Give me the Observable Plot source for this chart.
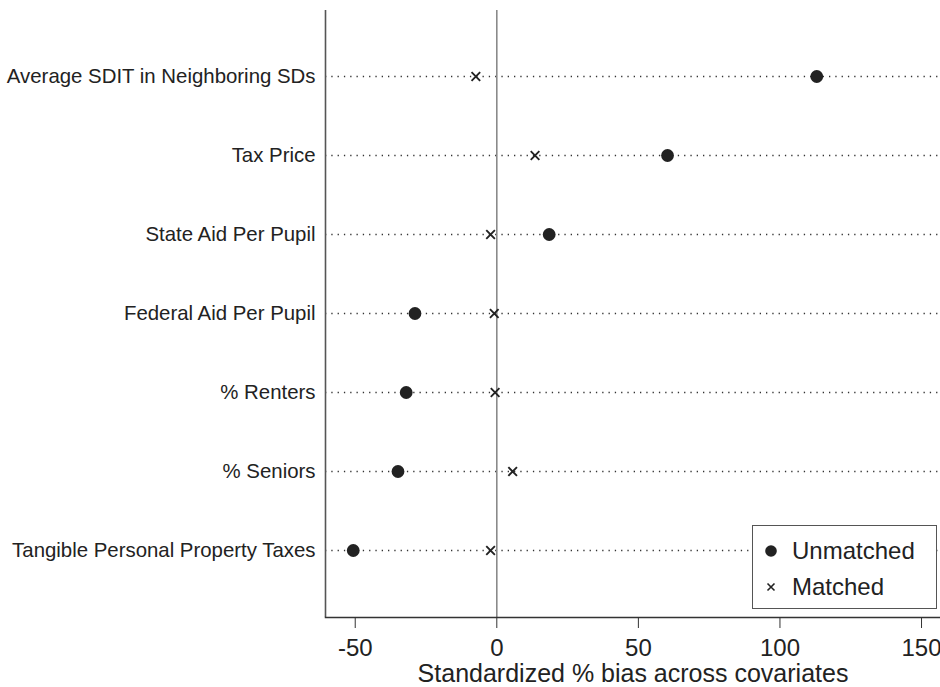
<!DOCTYPE html>
<html>
<head>
<meta charset="utf-8">
<script src="https://cdn.jsdelivr.net/npm/d3@7"></script>
<script src="https://cdn.jsdelivr.net/npm/@observablehq/plot@0.6"></script>
<style>
  html, body { margin: 0; padding: 0; background: #fff; overflow: hidden; }
  #wrap { position: relative; width: 940px; height: 687px; font-family: "Liberation Sans", Arial, sans-serif; }
  #wrap svg { display: block; }
  #legend { position: absolute; left: 752px; top: 525px; width: 185px; height: 84px; box-sizing: border-box;
            border: 1px solid #555; background: #fff; color: #222; font-size: 24px; }
  .lrow { position: absolute; left: 0; height: 36px; display: flex; align-items: center; }
  .lrow svg { margin-left: 11px; margin-right: 14px; }
</style>
</head>
<body>
<div id="wrap"></div>
<script>
const categories = [
  "Average SDIT in Neighboring SDs",
  "Tax Price",
  "State Aid Per Pupil",
  "Federal Aid Per Pupil",
  "% Renters",
  "% Seniors",
  "Tangible Personal Property Taxes"
];
const unmatched = [113, 60.3, 18.5, -28.9, -32.0, -34.9, -50.7];
const matched = [-7.4, 13.5, -2.2, -0.9, -0.6, 5.6, -2.2];
const xTicks = [-50, 0, 50, 100, 150];
const xDomain = [-60.5, 156.7];
const seriesNames = ["Unmatched", "Matched"];

const unmatchedData = categories.map((c, i) => ({cat: c, v: unmatched[i]}));
const matchedData = categories.map((c, i) => ({cat: c, v: matched[i]}));

const ink = "#222";

const chart = Plot.plot({
  width: 940,
  height: 687,
  marginLeft: 325,
  marginRight: 0,
  marginTop: 10,
  marginBottom: 70,
  style: {fontFamily: '"Liberation Sans", Arial, sans-serif', color: ink, background: "#fff", overflow: "visible"},
  x: {domain: xDomain, ticks: xTicks},
  y: {type: "point", domain: categories, range: [73.3, 551.7], padding: 0},
  marks: [
    Plot.ruleY(categories, {stroke: "#333", strokeWidth: 1.4, strokeDasharray: "1.3,5"}),
    Plot.ruleX([0], {stroke: "#8a8a8a", strokeWidth: 1.6}),
    Plot.ruleX([xDomain[0]], {stroke: "#555", strokeWidth: 1.6}),
    Plot.frame({anchor: "bottom", stroke: "#333", strokeWidth: 1.5}),
    Plot.axisY({tickSize: 0, tickPadding: 10, fontSize: 20.4, label: null, fill: ink}),
    Plot.axisX({
      ticks: xTicks, tickSize: 11, tickPadding: 10, fontSize: 24, stroke: "#333", fill: ink,
      tickFormat: d => String(d),
      label: "Standardized % bias across covariates", labelAnchor: "center", labelArrow: "none", labelOffset: 64
    }),
    Plot.dot(matchedData, {x: "v", y: "cat", symbol: "times", r: 4, stroke: ink, strokeWidth: 1.9}),
    Plot.dot(unmatchedData, {x: "v", y: "cat", r: 6.4, fill: ink, stroke: "none"})
  ]
});
const wrap = document.getElementById("wrap");
wrap.appendChild(chart);
d3.select(chart).selectAll('g[aria-label="x-axis label"]').attr("font-size", 25);

// legend
const legend = document.createElement("div");
legend.id = "legend";
legend.innerHTML = `
  <div class="lrow" style="top:7px"><svg width="14" height="14"><circle cx="7" cy="7" r="5.8" fill="${ink}"/></svg><span>${seriesNames[0]}</span></div>
  <div class="lrow" style="top:43px"><svg width="14" height="14"><path d="M3.5,3.5L10.5,10.5M10.5,3.5L3.5,10.5" stroke="${ink}" stroke-width="1.6"/></svg><span>${seriesNames[1]}</span></div>`;
wrap.appendChild(legend);
</script>
</body>
</html>
